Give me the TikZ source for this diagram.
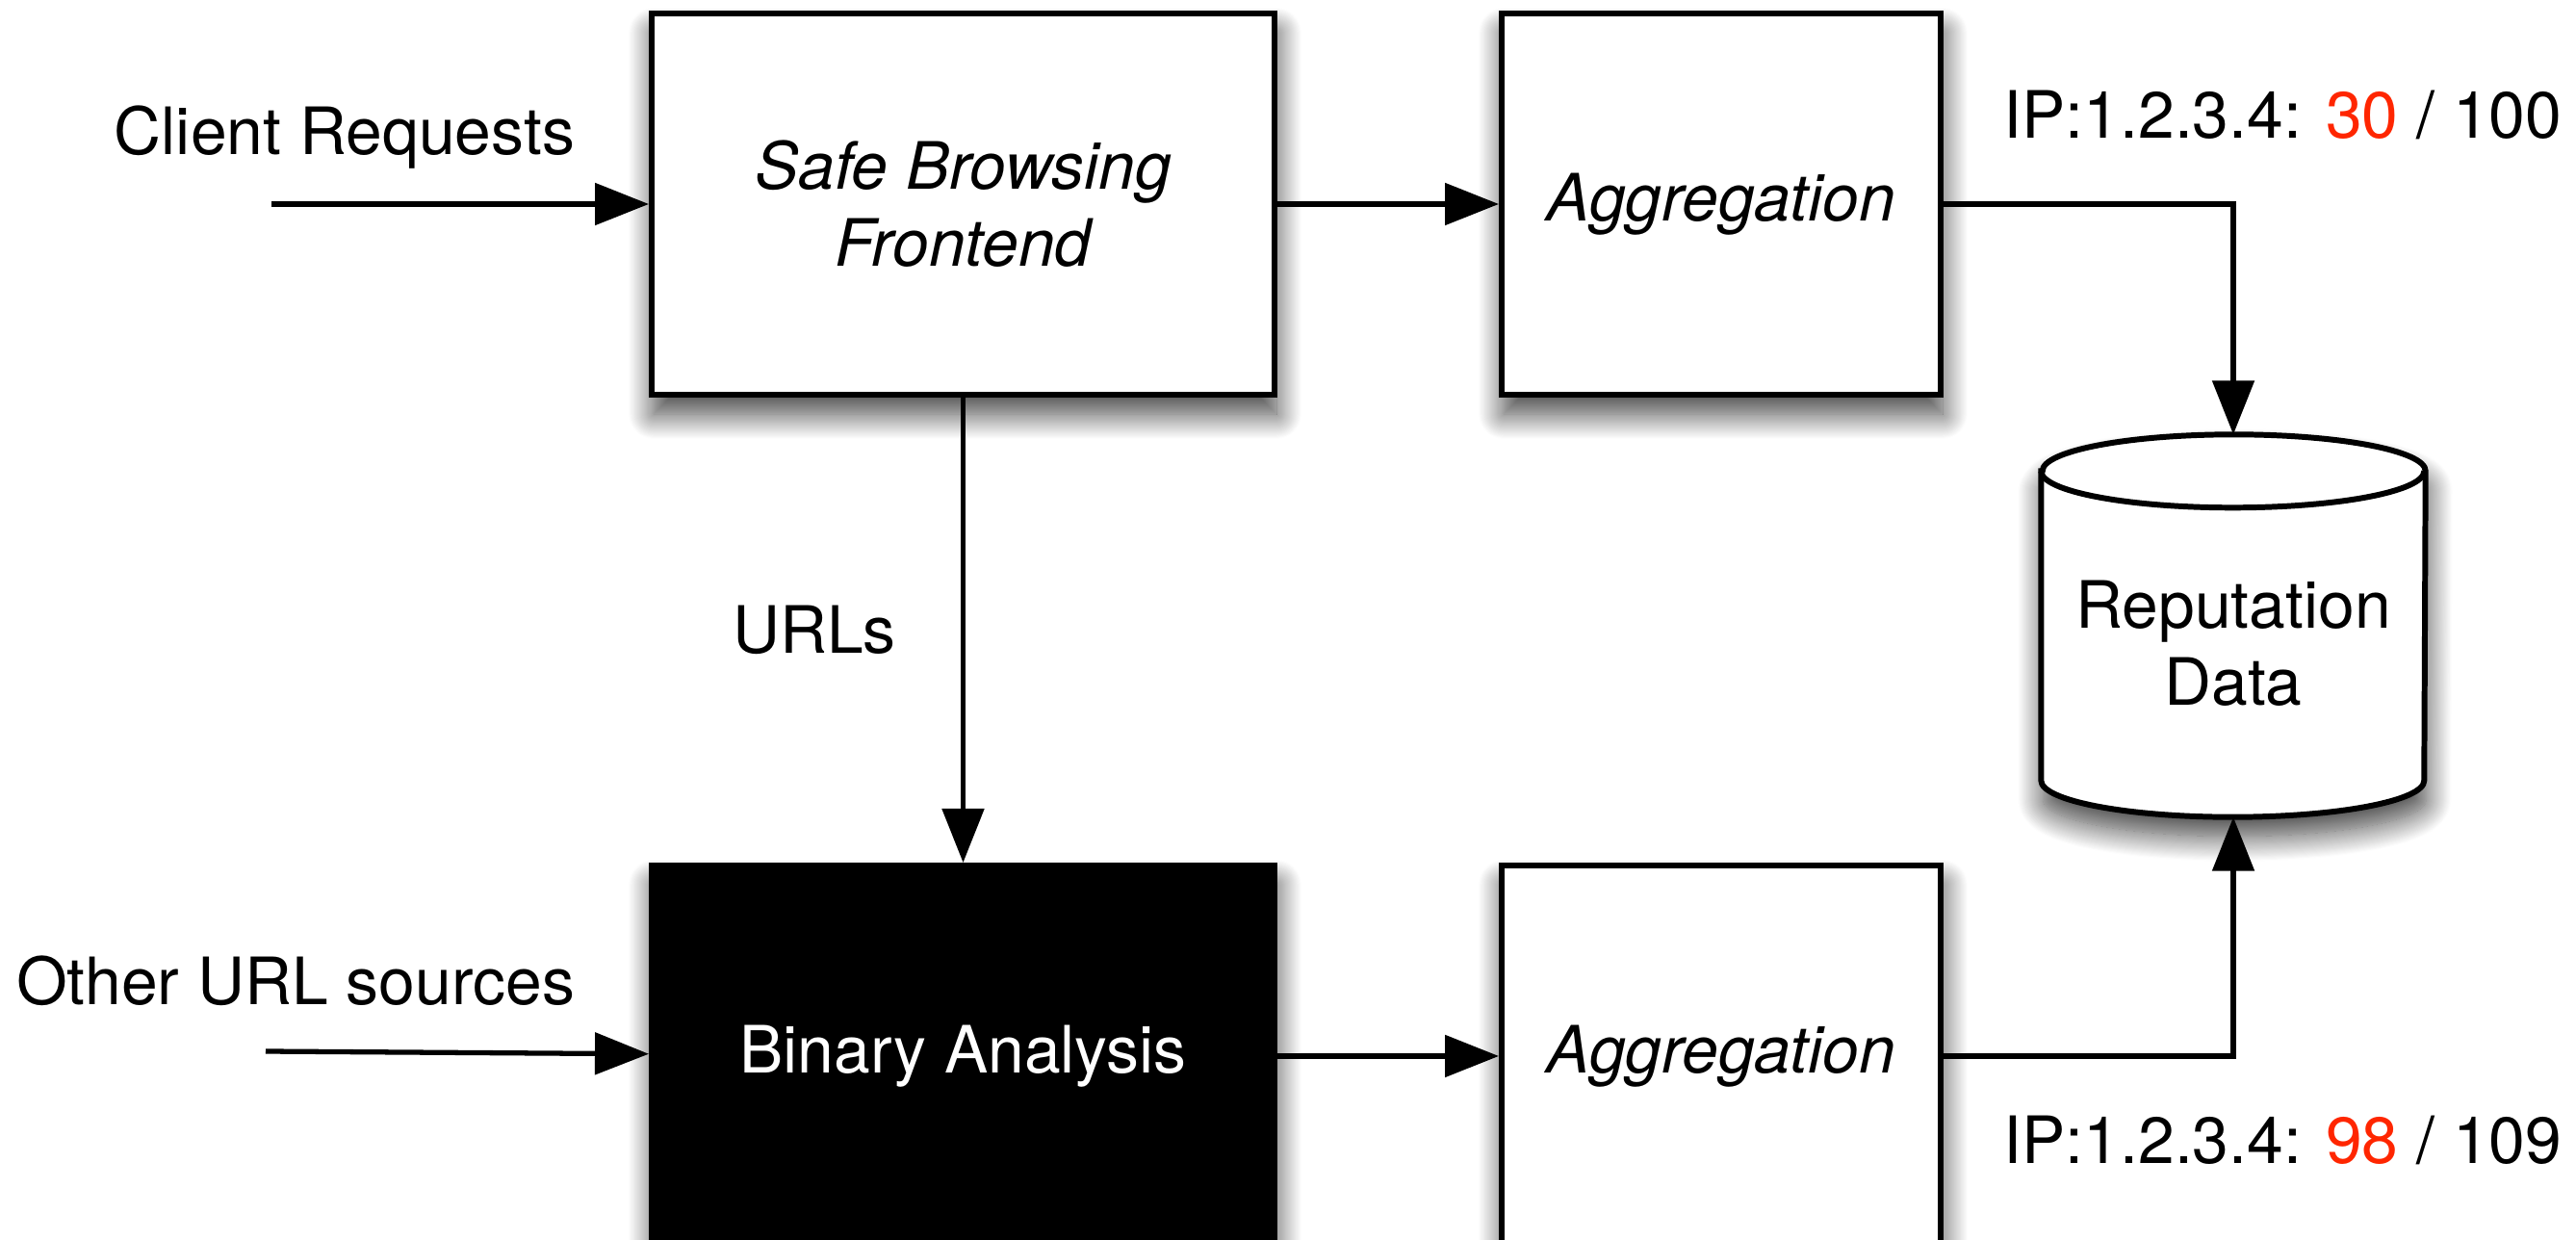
\documentclass[tikz,border=0pt]{standalone}
\usepackage{fontspec}
\setmainfont{TeX Gyre Heros}
\usetikzlibrary{positioning, arrows.meta, shadows.blur, backgrounds, calc}
\definecolor{ipred}{RGB}{255,38,0}

\begin{document}
\begin{tikzpicture}[>={Triangle[length=0.56cm,width=0.43cm]},
                  font=\fontsize{19.3pt}{22.8pt}\selectfont,
                  sombra/.style={blur shadow={shadow xshift=0.02cm,
                      shadow yshift=-0.2cm, shadow blur radius=0.26cm,
                      shadow blur steps=25, shadow opacity=75}},
                  box/.style={draw, line width=1.7pt, fill=white, align=center,
                      minimum height=3.96cm, sombra},
                  bigbox/.style={box, minimum width=6.47cm},
                  aggbox/.style={box, minimum width=4.56cm},
                  wire/.style={->, line width=1.5pt},
                  tag/.style={inner sep=0pt}]

                  \useasboundingbox (0,0) rectangle (26.76,-12.88);

                  % Colocamos las cajas del sistema.
                  \node[bigbox] (fe) at (10.005,-2.12)
                  {\itshape Safe Browsing\\ \itshape Frontend};
                  \node[aggbox, right=2.30cm of fe] (agg1) {\itshape Aggregation};
                  \node[bigbox, fill=black, text=white, below=4.83cm of fe] (ba)
                  {Binary Analysis};
                  \node[aggbox, right=2.30cm of ba] (agg2) {\itshape Aggregation};
                  \node[tag, minimum width=3.98cm, minimum height=3.96cm]
                  (rep) at (23.2,-6.5) {};
                  \node[tag, align=center] (reptxt) at ($(rep)+(0,-0.18)$)
                  {Reputation\\Data};

                  % El cilindro de los datos.
                  \begin{scope}[on background layer]
                  \draw[line width=1.7pt, fill=white, sombra]
                  ($(rep.north west)+(0,-0.38)$) -- ($(rep.south west)+(0,0.38)$)
                  arc[start angle=180, end angle=360, x radius=1.99cm, y radius=0.38cm]
                  -- ($(rep.north east)+(0,-0.38)$)
                  arc[start angle=0, end angle=180, x radius=1.99cm, y radius=0.38cm]
                  -- cycle;
                  \draw[line width=1.7pt] ($(rep.north west)+(0,-0.38)$)
                  arc[start angle=180, end angle=360, x radius=1.99cm, y radius=0.38cm];
                  \end{scope}

                  % Textos sueltos.
                  \node[tag] (creq) at (3.58,-1.43) {Client Requests};
                  \node[tag] (other) at (3.07,-10.19) {Other URL sources};
                  \node[tag, anchor=east] (ip1) at (26.62,-1.19)
                  {IP:1.2.3.4: \textcolor{ipred}{30} / 100};
                  \node[tag, anchor=east] (ip2) at (26.62,-11.84)
                  {IP:1.2.3.4: \textcolor{ipred}{98} / 109};
                  \coordinate (cin) at (2.82,-2.12);
                  \coordinate (oin) at (2.76,-10.92);

                  % Dibujamos las conexiones.
                  \draw[wire] (cin) -- (fe);
                  \draw[wire] (oin) -- (ba);
                  \draw[wire] (fe) -- node[tag, left=0.67cm] {URLs} (ba);
                  \draw[wire] (fe) -- (agg1);
                  \draw[wire] (ba) -- (agg2);
                  \draw[wire] (agg1) -| (rep);
                  \draw[wire] (agg2) -| (rep);

\end{tikzpicture}
\end{document}
